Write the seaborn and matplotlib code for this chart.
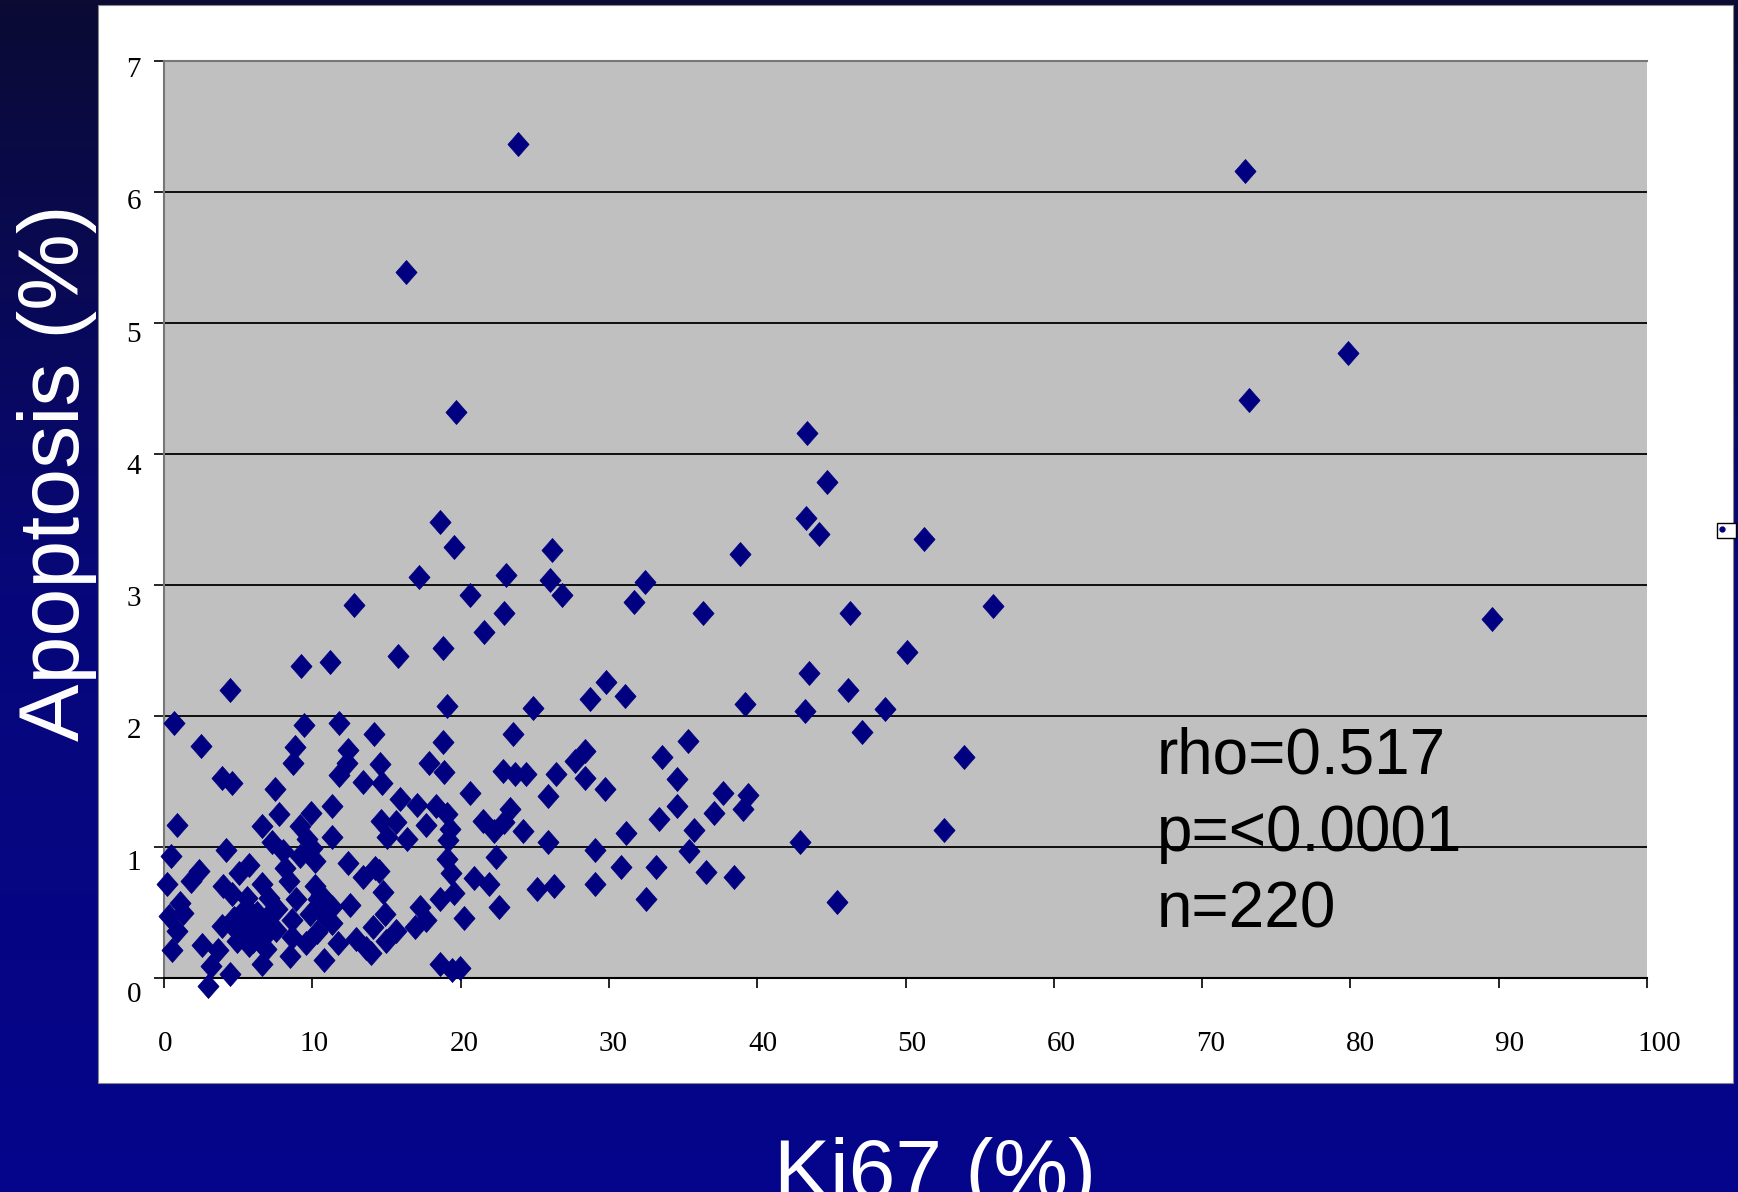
import numpy as np
import pandas as pd
import matplotlib
matplotlib.use("Agg")
import matplotlib.pyplot as plt
import seaborn as sns
from matplotlib.path import Path
from matplotlib.patches import Rectangle
from matplotlib.transforms import ScaledTranslation
import matplotlib.colors as mcolors

# ---------------- data ----------------
ki67 = [23.84, 72.87, 16.29, 79.82, 73.17, 19.66, 43.35, 44.69, 43.27, 44.17,
        18.61, 19.58, 26.16, 38.86, 51.27, 17.19, 23.09, 26.01, 32.44, 26.84,
        20.63, 31.69, 12.78, 55.90, 36.32, 46.26, 22.94, 89.54, 21.60, 18.83,
        15.77, 50.07, 9.27, 11.21, 43.50, 29.82, 31.09, 4.48, 46.11, 28.70,
        19.06, 39.16, 43.20, 48.65, 24.89, 0.67, 9.42, 11.81, 47.09, 14.13,
        23.54, 2.47, 18.83, 35.35, 53.96, 33.56, 8.82, 12.41, 14.57, 8.67,
        12.33, 17.86, 27.73, 28.40, 3.89, 4.56, 11.81, 13.45, 14.72, 18.91,
        22.87, 23.70, 24.44, 26.46, 28.40, 34.60, 29.75, 7.47, 37.67, 39.39,
        25.86, 20.63, 15.92, 17.04, 11.36, 18.31, 34.60, 39.01, 37.07, 9.94,
        23.32, 19.06, 7.77, 33.41, 21.52, 0.90, 6.58, 22.94, 14.65, 15.62,
        17.64, 9.19, 19.28, 31.17, 35.75, 52.62, 24.22, 22.27, 11.36, 15.02,
        16.37, 9.64, 42.90, 25.86, 19.13, 7.25, 10.01, 4.19, 8.00, 29.07,
        35.43, 0.45, 22.42, 9.19, 10.16, 19.06, 12.41, 5.75, 8.15, 14.20,
        30.79, 33.18, 14.50, 36.55, 2.39, 5.08, 13.45, 19.36, 38.42, 20.93,
        1.79, 8.45, 0.22, 21.90, 29.07, 3.96, 6.58, 10.16, 26.31, 25.12,
        19.58, 14.80, 4.56, 10.61, 5.60, 7.09, 8.89, 18.61, 32.51, 45.37,
        1.05, 12.56, 11.36, 17.26, 22.57, 5.46, 10.68, 7.62, 1.27, 5.90,
        14.87, 9.87, 0.37, 4.71, 20.25, 6.88, 8.60, 17.64, 5.31, 11.36,
        3.89, 14.06, 16.90, 0.90, 5.98, 7.55, 15.62, 6.53, 12.93, 8.60,
        14.94, 4.94, 9.57, 11.73, 5.75, 2.54, 13.60, 6.88, 3.66, 0.52,
        13.98, 8.52, 10.76, 6.58, 3.14, 18.61, 19.96, 19.43, 4.48, 2.99,
        5.20, 6.10, 5.50, 6.30, 7.00, 5.00, 6.00, 10.30, 11.00, 10.40]

apoptosis = [6.37, 6.16, 5.39, 4.77, 4.41, 4.32, 4.16, 3.79, 3.51, 3.39,
             3.48, 3.29, 3.27, 3.24, 3.35, 3.06, 3.08, 3.04, 3.02, 2.92,
             2.92, 2.87, 2.85, 2.84, 2.79, 2.79, 2.79, 2.74, 2.64, 2.52,
             2.46, 2.49, 2.38, 2.41, 2.33, 2.26, 2.15, 2.20, 2.20, 2.13,
             2.08, 2.09, 2.04, 2.05, 2.06, 1.95, 1.93, 1.95, 1.88, 1.86,
             1.86, 1.77, 1.80, 1.81, 1.69, 1.69, 1.76, 1.74, 1.63, 1.64,
             1.64, 1.64, 1.66, 1.73, 1.53, 1.49, 1.55, 1.50, 1.49, 1.57,
             1.58, 1.56, 1.56, 1.56, 1.53, 1.52, 1.44, 1.44, 1.41, 1.40,
             1.39, 1.41, 1.37, 1.32, 1.31, 1.31, 1.31, 1.29, 1.26, 1.26,
             1.29, 1.25, 1.25, 1.21, 1.20, 1.17, 1.16, 1.19, 1.20, 1.19,
             1.17, 1.16, 1.14, 1.11, 1.13, 1.13, 1.12, 1.12, 1.08, 1.08,
             1.06, 1.06, 1.04, 1.04, 1.05, 1.04, 0.99, 0.98, 0.97, 0.98,
             0.97, 0.93, 0.92, 0.93, 0.89, 0.91, 0.88, 0.86, 0.84, 0.84,
             0.85, 0.85, 0.82, 0.81, 0.82, 0.80, 0.77, 0.80, 0.77, 0.76,
             0.74, 0.74, 0.72, 0.72, 0.72, 0.70, 0.72, 0.70, 0.70, 0.68,
             0.65, 0.66, 0.64, 0.63, 0.61, 0.61, 0.60, 0.60, 0.60, 0.58,
             0.57, 0.56, 0.54, 0.54, 0.54, 0.53, 0.53, 0.53, 0.50, 0.50,
             0.49, 0.49, 0.47, 0.46, 0.46, 0.46, 0.44, 0.44, 0.42, 0.42,
             0.40, 0.39, 0.39, 0.36, 0.36, 0.37, 0.36, 0.32, 0.30, 0.31,
             0.28, 0.28, 0.27, 0.27, 0.25, 0.25, 0.23, 0.22, 0.21, 0.21,
             0.19, 0.17, 0.14, 0.11, 0.09, 0.11, 0.08, 0.06, 0.03, -0.06,
             0.45, 0.40, 0.30, 0.50, 0.35, 0.35, 0.28, 0.35, 0.45, 0.60]

x_ticks = [0, 10, 20, 30, 40, 50, 60, 70, 80, 90, 100]
y_ticks = [0, 1, 2, 3, 4, 5, 6, 7]
stats_lines = ["rho=0.517", "p=<0.0001", "n=220"]
x_label = "Ki67 (%)"
y_label = "Apoptosis (%)"

df = pd.DataFrame({"Ki67": ki67, "Apoptosis": apoptosis})

# ---------------- figure ----------------
plt.rcParams['font.family'] = ['Liberation Sans', 'DejaVu Sans']
W, H = 1738, 1192
fig = plt.figure(figsize=(W / 100, H / 100), dpi=100)

# background gradient + white panel
bg = fig.add_axes([0, 0, 1, 1], zorder=-10)
grad = np.linspace(0, 1, 256).reshape(-1, 1)
cmap = mcolors.LinearSegmentedColormap.from_list('bg', ['#0b0b34', '#07077a', '#05058c'])
bg.imshow(grad, aspect='auto', cmap=cmap, extent=[0, 1, 0, 1], origin='upper')
bg.set_xlim(0, 1)
bg.set_ylim(0, 1)
bg.axis('off')
px = lambda v: v / W
py = lambda v: 1 - v / H
bg.add_patch(Rectangle((px(98), py(1083)), px(1733) - px(98), py(5) - py(1083),
                       facecolor='white', edgecolor='#888888', lw=0.8))
# small legend remnant on the right edge
bg.add_patch(Rectangle((px(1717), py(538)), px(1736) - px(1717), py(523) - py(538),
                       facecolor='white', edgecolor='black', lw=1.0))
bg.plot([px(1722)], [py(529)], marker='o', ms=3.5, color='#000080')

# main axes
ax = fig.add_axes([px(164), py(978), px(1647) - px(164), py(61) - py(978)])
ax.set_facecolor('#c0c0c0')

diamond = Path([(0, 1), (0.88, 0), (0, -1), (-0.88, 0), (0, 1)],
               [Path.MOVETO, Path.LINETO, Path.LINETO, Path.LINETO, Path.CLOSEPOLY])
sns.scatterplot(data=df, x="Ki67", y="Apoptosis", marker=diamond, s=300,
                color='#000080', edgecolor='#000080', linewidth=0.5,
                ax=ax, clip_on=False, zorder=3, legend=False)

ax.set_xlim(0, 100)
ax.set_ylim(0, 7)
ax.set_xticks(x_ticks)
ax.set_yticks(y_ticks)
ax.set_xticklabels([str(t) for t in x_ticks])
ax.set_yticklabels([str(t) for t in y_ticks])
ax.set_xlabel("")
ax.set_ylabel("")

ax.yaxis.grid(True, color='black', lw=1.3)
ax.xaxis.grid(False)
ax.set_axisbelow(True)

for side in ['left', 'top']:
    ax.spines[side].set_color('#777777')
    ax.spines[side].set_linewidth(1.5)
ax.spines['bottom'].set_color('black')
ax.spines['bottom'].set_linewidth(1.5)
ax.spines['right'].set_visible(False)

ax.tick_params(axis='both', direction='out', length=7, width=1.2, color='black',
               labelcolor='black', labelsize=21, bottom=True, left=True)
ax.tick_params(axis='y', pad=9.5)
ax.tick_params(axis='x', pad=31)
for lab in ax.get_xticklabels() + ax.get_yticklabels():
    lab.set_fontfamily(['Liberation Serif', 'DejaVu Serif'])

# small per-label drift as in the reference
for t, lab in zip(x_ticks, ax.get_xticklabels()):
    dx = (1 + 0.11 * t) / 100
    lab.set_transform(lab.get_transform() + ScaledTranslation(dx, 0, fig.dpi_scale_trans))
for t, lab in zip(y_ticks, ax.get_yticklabels()):
    dy = -(14 - 1.1 * t) / 100
    lab.set_transform(lab.get_transform() + ScaledTranslation(0, dy, fig.dpi_scale_trans))

# stats annotation
tx = (1157 - 164) / (1647 - 164)
for line, base in zip(stats_lines, [774, 851, 928]):
    ax.text(tx, (978 - base) / (978 - 61), line, transform=ax.transAxes,
            ha='left', va='baseline', fontsize=46, color='black',
            fontfamily=['Liberation Sans', 'DejaVu Sans'])

# axis titles in the slide background (the x title is cut by the slide edge, as in the source)
fig.text(px(935), py(1198), x_label, ha='center', va='baseline', fontsize=60.5,
         color='white', fontfamily=['Liberation Sans', 'DejaVu Sans'])
fig.text(px(79), py(473), y_label, ha='center', va='baseline', rotation=90,
         rotation_mode='anchor', fontsize=62, color='white',
         fontfamily=['Liberation Sans', 'DejaVu Sans'])

fig.savefig("out.png", dpi=100)
